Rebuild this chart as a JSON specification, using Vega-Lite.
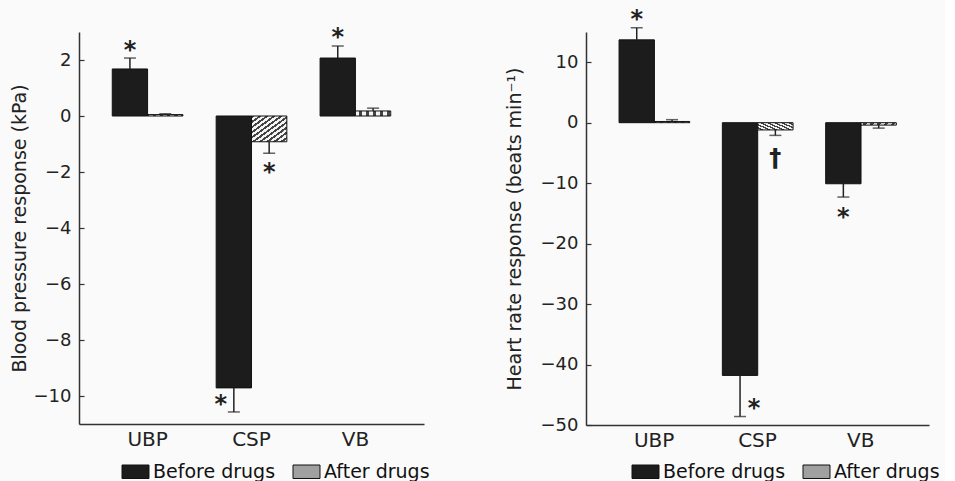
{
  "$schema": "https://vega.github.io/schema/vega-lite/v6.json",
  "background": "#fafafa",
  "padding": {"left": 10, "top": 8, "right": 5, "bottom": 0},
  "spacing": 75,
  "datasets": {
    "bp": [
      {"cat": "UBP", "phase": "Before drugs", "value": 1.68, "err": 2.07},
      {"cat": "UBP", "phase": "After drugs", "value": 0.05, "err": 0.08},
      {"cat": "CSP", "phase": "Before drugs", "value": -9.71, "err": -10.57},
      {"cat": "CSP", "phase": "After drugs", "value": -0.92, "err": -1.33},
      {"cat": "VB", "phase": "Before drugs", "value": 2.07, "err": 2.5},
      {"cat": "VB", "phase": "After drugs", "value": 0.18, "err": 0.28}
    ],
    "bpAnn": [
      {"cat": "UBP", "phase": "Before drugs", "pos": 2.55, "sym": "*"},
      {"cat": "CSP", "phase": "Before drugs", "pos": -10.1, "sym": "*"},
      {"cat": "CSP", "phase": "After drugs", "pos": -1.82, "sym": "*"},
      {"cat": "VB", "phase": "Before drugs", "pos": 3.0, "sym": "*"}
    ],
    "hr": [
      {"cat": "UBP", "phase": "Before drugs", "value": 13.7, "err": 15.7},
      {"cat": "UBP", "phase": "After drugs", "value": 0.2, "err": 0.5},
      {"cat": "CSP", "phase": "Before drugs", "value": -41.8, "err": -48.6},
      {"cat": "CSP", "phase": "After drugs", "value": -1.2, "err": -2.1},
      {"cat": "VB", "phase": "Before drugs", "value": -10.1, "err": -12.3},
      {"cat": "VB", "phase": "After drugs", "value": -0.4, "err": -0.9}
    ],
    "hrAnn": [
      {"cat": "UBP", "phase": "Before drugs", "pos": 17.9, "sym": "*"},
      {"cat": "CSP", "phase": "Before drugs", "pos": -46.4, "sym": "*"},
      {"cat": "CSP", "phase": "After drugs", "pos": -5.0, "sym": "†"},
      {"cat": "VB", "phase": "Before drugs", "pos": -14.7, "sym": "*"}
    ]
  },
  "resolve": {"scale": {"fill": "independent"}, "legend": {"fill": "independent"}},
  "hconcat": [
    {
      "width": 345,
      "height": 392,
      "layer": [
        {
          "data": {"name": "bp"},
          "mark": {"type": "bar", "stroke": "#111", "strokeWidth": 1},
          "encoding": {
            "x": {"field": "cat", "type": "nominal", "sort": ["UBP", "CSP", "VB"], "scale": {"paddingInner": 0.32, "paddingOuter": 0.32},
                  "axis": {"title": null, "ticks": false, "labelAngle": 0, "labelFontSize": 20, "labelPadding": 5}},
            "xOffset": {"field": "phase", "type": "nominal", "sort": ["Before drugs", "After drugs"], "scale": {"domain": ["Before drugs", "After drugs"], "paddingInner": 0, "paddingOuter": 0}},
            "y": {"field": "value", "type": "quantitative", "scale": {"domain": [-11, 3], "nice": false, "zero": false},
                  "axis": {"title": "Blood pressure response (kPa)", "values": [2, 0, -2, -4, -6, -8, -10], "tickSize": -5, "labelPadding": 13, "labelFontSize": 18, "titleFontSize": 19, "titlePadding": 4, "labelExpr": "replace(datum.label, '-', '−')"}},
            "fill": {
              "field": "phase", "type": "nominal",
              "scale": {"domain": ["Before drugs", "After drugs"], "range": ["#1c1c1c", "#a0a0a0"]},
              "condition": {"test": "datum.phase === 'After drugs'", "value": {"gradient": "linear", "x1": 0, "y1": 0, "x2": 1, "y2": 1, "stops": [
                {"offset": 0, "color": "#444"}, {"offset": 0.045, "color": "#444"}, {"offset": 0.045, "color": "#f4f4f4"}, {"offset": 0.1, "color": "#f4f4f4"},
                {"offset": 0.1, "color": "#444"}, {"offset": 0.145, "color": "#444"}, {"offset": 0.145, "color": "#f4f4f4"}, {"offset": 0.2, "color": "#f4f4f4"},
                {"offset": 0.2, "color": "#444"}, {"offset": 0.245, "color": "#444"}, {"offset": 0.245, "color": "#f4f4f4"}, {"offset": 0.3, "color": "#f4f4f4"},
                {"offset": 0.3, "color": "#444"}, {"offset": 0.345, "color": "#444"}, {"offset": 0.345, "color": "#f4f4f4"}, {"offset": 0.4, "color": "#f4f4f4"},
                {"offset": 0.4, "color": "#444"}, {"offset": 0.445, "color": "#444"}, {"offset": 0.445, "color": "#f4f4f4"}, {"offset": 0.5, "color": "#f4f4f4"},
                {"offset": 0.5, "color": "#444"}, {"offset": 0.545, "color": "#444"}, {"offset": 0.545, "color": "#f4f4f4"}, {"offset": 0.6, "color": "#f4f4f4"},
                {"offset": 0.6, "color": "#444"}, {"offset": 0.645, "color": "#444"}, {"offset": 0.645, "color": "#f4f4f4"}, {"offset": 0.7, "color": "#f4f4f4"},
                {"offset": 0.7, "color": "#444"}, {"offset": 0.745, "color": "#444"}, {"offset": 0.745, "color": "#f4f4f4"}, {"offset": 0.8, "color": "#f4f4f4"},
                {"offset": 0.8, "color": "#444"}, {"offset": 0.845, "color": "#444"}, {"offset": 0.845, "color": "#f4f4f4"}, {"offset": 0.9, "color": "#f4f4f4"},
                {"offset": 0.9, "color": "#444"}, {"offset": 0.945, "color": "#444"}, {"offset": 0.945, "color": "#f4f4f4"}, {"offset": 1, "color": "#f4f4f4"}]}},
              "legend": {
                "title": null, "orient": "none", "legendX": 47, "legendY": 430, "direction": "horizontal",
                "symbolType": "M-2,-1H2V1H-2Z", "symbolSize": 182, "symbolStrokeColor": "#111", "symbolStrokeWidth": 1,
                "labelFontSize": 19, "labelOffset": 8, "columnPadding": 15, "labelColor": "#111"
              }
            }
          }
        },
        {
          "data": {"name": "bp"},
          "mark": {"type": "rule", "color": "#222", "strokeWidth": 1.5},
          "encoding": {
            "x": {"field": "cat", "type": "nominal", "sort": ["UBP", "CSP", "VB"]},
            "xOffset": {"field": "phase", "type": "nominal", "sort": ["Before drugs", "After drugs"]},
            "y": {"field": "value", "type": "quantitative"},
            "y2": {"field": "err"}
          }
        },
        {
          "data": {"name": "bp"},
          "mark": {"type": "tick", "color": "#222", "size": 12, "thickness": 1.5, "orient": "horizontal"},
          "encoding": {
            "x": {"field": "cat", "type": "nominal", "sort": ["UBP", "CSP", "VB"]},
            "xOffset": {"field": "phase", "type": "nominal", "sort": ["Before drugs", "After drugs"]},
            "y": {"field": "err", "type": "quantitative"}
          }
        },
        {
          "data": {"name": "bpAnn"},
          "transform": [{"filter": "!(datum.cat === 'CSP' && datum.phase === 'Before drugs')"}],
          "mark": {"type": "text", "font": "DejaVu Sans", "fontSize": 24, "fontWeight": "bold", "color": "#222", "baseline": "middle", "dy": 6},
          "encoding": {
            "x": {"field": "cat", "type": "nominal", "sort": ["UBP", "CSP", "VB"]},
            "xOffset": {"field": "phase", "type": "nominal", "sort": ["Before drugs", "After drugs"]},
            "y": {"field": "pos", "type": "quantitative"},
            "text": {"field": "sym"}
          }
        },
        {
          "data": {"name": "bpAnn"},
          "transform": [{"filter": "datum.cat === 'CSP' && datum.phase === 'Before drugs'"}],
          "mark": {"type": "text", "font": "DejaVu Sans", "fontSize": 24, "fontWeight": "bold", "color": "#222", "baseline": "middle", "dy": 6, "dx": -13},
          "encoding": {
            "x": {"field": "cat", "type": "nominal", "sort": ["UBP", "CSP", "VB"]},
            "xOffset": {"field": "phase", "type": "nominal", "sort": ["Before drugs", "After drugs"]},
            "y": {"field": "pos", "type": "quantitative"},
            "text": {"field": "sym"}
          }
        }
      ]
    },
    {
      "width": 343,
      "height": 393,
      "layer": [
        {
          "data": {"name": "hr"},
          "mark": {"type": "bar", "stroke": "#111", "strokeWidth": 1},
          "encoding": {
            "x": {"field": "cat", "type": "nominal", "sort": ["UBP", "CSP", "VB"], "scale": {"paddingInner": 0.32, "paddingOuter": 0.32},
                  "axis": {"title": null, "ticks": false, "labelAngle": 0, "labelFontSize": 20, "labelPadding": 5}},
            "xOffset": {"field": "phase", "type": "nominal", "sort": ["Before drugs", "After drugs"], "scale": {"domain": ["Before drugs", "After drugs"], "paddingInner": 0, "paddingOuter": 0}},
            "y": {"field": "value", "type": "quantitative", "scale": {"domain": [-50, 15], "nice": false, "zero": false},
                  "axis": {"title": "Heart rate response (beats min⁻¹)", "values": [10, 0, -10, -20, -30, -40, -50], "tickSize": -5, "labelPadding": 13, "labelFontSize": 18, "titleFontSize": 19, "titlePadding": 16, "labelExpr": "replace(datum.label, '-', '−')"}},
            "fill": {
              "field": "phase", "type": "nominal",
              "scale": {"domain": ["Before drugs", "After drugs"], "range": ["#1c1c1c", "#a0a0a0"]},
              "condition": {"test": "datum.phase === 'After drugs'", "value": {"gradient": "linear", "x1": 0, "y1": 0, "x2": 1, "y2": 1, "stops": [
                {"offset": 0, "color": "#444"}, {"offset": 0.045, "color": "#444"}, {"offset": 0.045, "color": "#f4f4f4"}, {"offset": 0.1, "color": "#f4f4f4"},
                {"offset": 0.1, "color": "#444"}, {"offset": 0.145, "color": "#444"}, {"offset": 0.145, "color": "#f4f4f4"}, {"offset": 0.2, "color": "#f4f4f4"},
                {"offset": 0.2, "color": "#444"}, {"offset": 0.245, "color": "#444"}, {"offset": 0.245, "color": "#f4f4f4"}, {"offset": 0.3, "color": "#f4f4f4"},
                {"offset": 0.3, "color": "#444"}, {"offset": 0.345, "color": "#444"}, {"offset": 0.345, "color": "#f4f4f4"}, {"offset": 0.4, "color": "#f4f4f4"},
                {"offset": 0.4, "color": "#444"}, {"offset": 0.445, "color": "#444"}, {"offset": 0.445, "color": "#f4f4f4"}, {"offset": 0.5, "color": "#f4f4f4"},
                {"offset": 0.5, "color": "#444"}, {"offset": 0.545, "color": "#444"}, {"offset": 0.545, "color": "#f4f4f4"}, {"offset": 0.6, "color": "#f4f4f4"},
                {"offset": 0.6, "color": "#444"}, {"offset": 0.645, "color": "#444"}, {"offset": 0.645, "color": "#f4f4f4"}, {"offset": 0.7, "color": "#f4f4f4"},
                {"offset": 0.7, "color": "#444"}, {"offset": 0.745, "color": "#444"}, {"offset": 0.745, "color": "#f4f4f4"}, {"offset": 0.8, "color": "#f4f4f4"},
                {"offset": 0.8, "color": "#444"}, {"offset": 0.845, "color": "#444"}, {"offset": 0.845, "color": "#f4f4f4"}, {"offset": 0.9, "color": "#f4f4f4"},
                {"offset": 0.9, "color": "#444"}, {"offset": 0.945, "color": "#444"}, {"offset": 0.945, "color": "#f4f4f4"}, {"offset": 1, "color": "#f4f4f4"}]}},
              "legend": {
                "title": null, "orient": "none", "legendX": 50, "legendY": 430, "direction": "horizontal",
                "symbolType": "M-2,-1H2V1H-2Z", "symbolSize": 182, "symbolStrokeColor": "#111", "symbolStrokeWidth": 1,
                "labelFontSize": 19, "labelOffset": 8, "columnPadding": 15, "labelColor": "#111"
              }
            }
          }
        },
        {
          "data": {"name": "hr"},
          "mark": {"type": "rule", "color": "#222", "strokeWidth": 1.5},
          "encoding": {
            "x": {"field": "cat", "type": "nominal", "sort": ["UBP", "CSP", "VB"]},
            "xOffset": {"field": "phase", "type": "nominal", "sort": ["Before drugs", "After drugs"]},
            "y": {"field": "value", "type": "quantitative"},
            "y2": {"field": "err"}
          }
        },
        {
          "data": {"name": "hr"},
          "mark": {"type": "tick", "color": "#222", "size": 12, "thickness": 1.5, "orient": "horizontal"},
          "encoding": {
            "x": {"field": "cat", "type": "nominal", "sort": ["UBP", "CSP", "VB"]},
            "xOffset": {"field": "phase", "type": "nominal", "sort": ["Before drugs", "After drugs"]},
            "y": {"field": "err", "type": "quantitative"}
          }
        },
        {
          "data": {"name": "hrAnn"},
          "transform": [{"filter": "!(datum.cat === 'CSP' && datum.phase === 'Before drugs')"}],
          "mark": {"type": "text", "font": "DejaVu Sans", "fontSize": 24, "fontWeight": "bold", "color": "#222", "baseline": "middle", "dy": 6},
          "encoding": {
            "x": {"field": "cat", "type": "nominal", "sort": ["UBP", "CSP", "VB"]},
            "xOffset": {"field": "phase", "type": "nominal", "sort": ["Before drugs", "After drugs"]},
            "y": {"field": "pos", "type": "quantitative"},
            "text": {"field": "sym"}
          }
        },
        {
          "data": {"name": "hrAnn"},
          "transform": [{"filter": "datum.cat === 'CSP' && datum.phase === 'Before drugs'"}],
          "mark": {"type": "text", "font": "DejaVu Sans", "fontSize": 24, "fontWeight": "bold", "color": "#222", "baseline": "middle", "dy": 6, "dx": 14},
          "encoding": {
            "x": {"field": "cat", "type": "nominal", "sort": ["UBP", "CSP", "VB"]},
            "xOffset": {"field": "phase", "type": "nominal", "sort": ["Before drugs", "After drugs"]},
            "y": {"field": "pos", "type": "quantitative"},
            "text": {"field": "sym"}
          }
        }
      ]
    }
  ],
  "config": {
    "view": {"stroke": null},
    "font": "DejaVu Sans",
    "axis": {"grid": false, "domainColor": "#333", "domainWidth": 1.5, "tickColor": "#333", "tickWidth": 1.2, "labelColor": "#222", "titleColor": "#222", "labelFont": "DejaVu Sans", "titleFont": "DejaVu Sans", "titleFontWeight": "normal"},
    "legend": {"labelFont": "DejaVu Sans"}
  }
}
